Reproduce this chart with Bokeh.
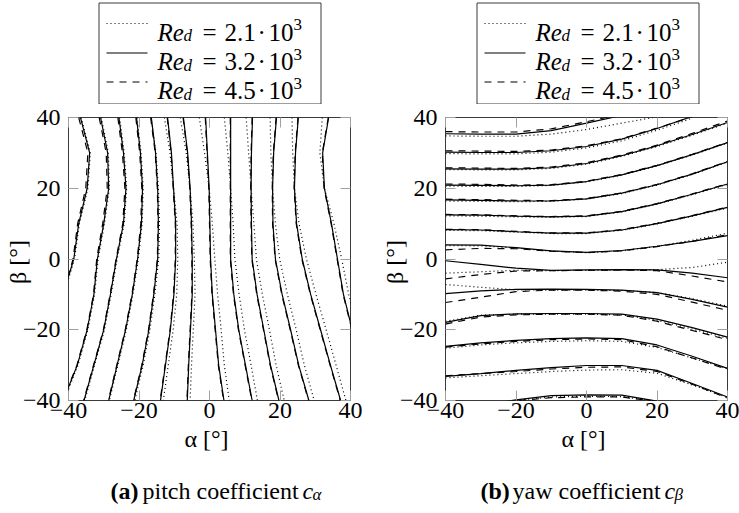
import math
from bokeh.plotting import figure
from bokeh.models import Range1d, LinearAxis, FixedTicker, Label
from bokeh.layouts import row, column
from bokeh.embed import file_html
from bokeh.resources import INLINE

nan = float("nan")
FONT = "Liberation Serif"

# ---------------- data ----------------
RE_VALUES = ["2.1", "3.2", "4.5"]
AXIS_TICKS = [-40, -20, 0, 20, 40]
TICK_LABELS = {-40: "\u221240", -20: "\u221220", 0: "0", 20: "20", 40: "40"}

# (a) pitch coefficient: alpha of each contour at these beta values
PITCH_BETA = [40, 30, 20, 10, 0, -10, -20, -30, -40]
PITCH_RE21 = [
    [-36.4, -33.8, -34.5, -36.9, -38.3, -41.3, nan, nan, nan],
    [-30.7, -28.7, -28.4, -29.8, -31.6, -32.6, -34.5, -37.3, -41.3],
    [-25.5, -24.2, -23.5, -24.2, -26.2, -27.9, -29.8, -32.6, -35.4],
    [-20.6, -19.4, -18.8, -19.1, -20.2, -21.7, -23.6, -26.0, -28.4],
    [-16.6, -15.2, -14.5, -14.2, -14.4, -15.5, -16.9, -18.8, -21.2],
    [-12.8, -11.2, -10.2, -9.2, -9.0, -9.3, -10.3, -11.7, -13.1],
    [-8.3, -6.6, -5.5, -4.7, -4.3, -4.1, -4.6, -5.1, -5.5],
    [-2.9, -1.4, -0.1, 0.8, 1.5, 2.3, 3.3, 4.2, 5.6],
    [4.2, 5.2, 6.0, 6.7, 7.2, 8.4, 9.9, 11.8, 13.6],
    [10.4, 11.1, 11.8, 12.6, 13.3, 15.0, 17.0, 18.9, 21.2],
    [17.2, 17.4, 17.9, 18.7, 19.9, 22.1, 24.6, 26.9, 29.7],
    [23.4, 23.6, 24.1, 25.4, 27.5, 30.2, 33.1, 35.9, 38.7],
    [32.0, 31.3, 32.6, 35.3, 37.5, 39.5, 42.1, nan, nan],
]
PITCH_RE32 = [
    [-36.6, -34.0, -34.7, -37.1, -38.5, -41.5, nan, nan, nan],
    [-30.9, -28.9, -28.6, -30.0, -31.8, -32.8, -34.7, -37.5, -41.5],
    [-25.7, -24.4, -23.7, -24.4, -26.4, -28.1, -30.0, -32.8, -35.6],
    [-20.7, -19.6, -19.0, -19.3, -20.4, -21.9, -23.8, -26.2, -28.6],
    [-16.5, -15.3, -14.7, -14.5, -14.7, -15.8, -17.2, -19.1, -21.5],
    [-11.9, -10.8, -10.2, -9.6, -9.6, -10.1, -11.1, -12.5, -13.9],
    [-7.4, -6.2, -5.5, -5.1, -4.9, -4.9, -5.4, -5.9, -6.3],
    [-1.1, -0.6, -0.1, 0.1, 0.3, 0.8, 1.7, 2.6, 4.1],
    [6.0, 6.0, 6.0, 6.0, 6.0, 6.9, 8.3, 10.2, 12.1],
    [12.2, 11.9, 11.8, 11.9, 12.1, 13.5, 15.4, 17.3, 19.7],
    [19.0, 18.2, 17.9, 18.0, 18.7, 20.6, 23.0, 25.3, 28.2],
    [25.2, 24.4, 24.1, 24.7, 26.3, 28.7, 31.5, 34.3, 37.2],
    [33.8, 32.1, 32.6, 34.6, 36.3, 38.0, 40.5, nan, nan],
]
PITCH_RE45 = [
    [-37.1, -34.5, -35.1, -37.4, -38.7, -41.6, nan, nan, nan],
    [-31.3, -29.3, -29.0, -30.3, -32.0, -32.9, -34.8, -37.6, -41.6],
    [-26.0, -24.7, -24.0, -24.6, -26.5, -28.2, -30.1, -32.9, -35.7],
    [-20.9, -19.8, -19.2, -19.5, -20.5, -22.0, -23.9, -26.3, -28.7],
    [-16.7, -15.4, -14.8, -14.6, -14.8, -15.9, -17.3, -19.2, -21.6],
    [-12.0, -10.9, -10.3, -9.7, -9.7, -10.2, -11.2, -12.6, -14.0],
    [-7.5, -6.3, -5.6, -5.2, -5.0, -5.0, -5.5, -6.0, -6.4],
    [-1.2, -0.7, -0.2, 0.0, 0.2, 0.7, 1.6, 2.5, 4.0],
    [5.9, 5.9, 5.9, 5.9, 5.9, 6.8, 8.2, 10.1, 12.0],
    [12.1, 11.8, 11.7, 11.8, 12.0, 13.4, 15.3, 17.2, 19.6],
    [18.9, 18.1, 17.8, 17.9, 18.6, 20.5, 22.9, 25.2, 28.1],
    [25.1, 24.3, 24.0, 24.6, 26.2, 28.6, 31.4, 34.2, 37.1],
    [33.7, 32.0, 32.5, 34.5, 36.2, 37.9, 40.4, nan, nan],
]

# (b) yaw coefficient: beta of each contour at these alpha values
YAW_ALPHA = [-40, -30, -20, -10, 0, 10, 20, 30, 40]
YAW_RE21 = [
    [34.8, 34.7, 34.7, 35.3, 36.6, 38.4, 40.2, nan, nan],
    [29.8, 29.7, 29.7, 30.2, 31.4, 33.4, 36.4, 39.8, nan],
    [25.3, 25.2, 25.2, 25.6, 26.8, 29.0, 31.8, 35.0, 38.4],
    [20.6, 20.5, 20.5, 20.8, 21.8, 23.7, 26.3, 29.4, 32.8],
    [16.4, 16.3, 16.2, 16.3, 16.9, 18.5, 20.9, 23.9, 27.4],
    [12.2, 12.1, 11.9, 11.8, 12.0, 13.3, 15.5, 18.2, 21.1],
    [8.1, 8.0, 7.6, 7.2, 7.2, 8.1, 9.9, 12.1, 14.4],
    [3.8, 3.7, 3.1, 2.2, 1.8, 2.3, 3.6, 5.3, 7.3],
    [-4.0, -3.6, -3.2, -3.3, -3.2, -3.1, -3.0, -2.4, -0.9],
    [-7.2, -8.0, -8.7, -8.8, -8.8, -8.9, -9.5, -11.2, -13.3],
    [-17.6, -15.9, -15.6, -15.6, -15.6, -15.8, -17.3, -19.8, -22.4],
    [-25.2, -24.3, -23.7, -23.3, -23.1, -23.3, -25.0, -28.0, -31.0],
    [-33.6, -33.0, -32.4, -31.8, -31.4, -31.3, -32.3, -35.6, -39.2],
    [nan, -41.7, -40.0, -39.0, -38.8, -38.9, -40.3, -42.0, nan],
]
YAW_RE32 = [
    [35.4, 35.3, 35.3, 36.3, 38.4, 40.6, nan, nan, nan],
    [30.2, 30.1, 30.1, 30.6, 31.8, 33.9, 36.9, 40.3, nan],
    [25.5, 25.4, 25.4, 25.8, 27.0, 29.2, 32.0, 35.2, 38.6],
    [20.9, 20.8, 20.7, 20.9, 21.9, 23.8, 26.4, 29.5, 32.9],
    [16.7, 16.6, 16.4, 16.4, 17.0, 18.6, 21.0, 24.0, 27.5],
    [12.5, 12.4, 12.1, 11.9, 12.1, 13.4, 15.6, 18.3, 21.2],
    [8.3, 8.2, 7.7, 7.3, 7.3, 8.2, 10.0, 12.2, 14.6],
    [4.0, 3.9, 3.2, 2.3, 1.9, 2.4, 3.6, 5.0, 6.6],
    [-0.5, -1.5, -2.6, -3.2, -3.1, -3.0, -3.1, -4.0, -5.3],
    [-9.8, -9.0, -8.6, -8.5, -8.6, -8.8, -9.5, -11.4, -13.6],
    [-17.9, -16.0, -15.5, -15.4, -15.4, -15.6, -17.0, -19.4, -22.1],
    [-24.7, -23.7, -23.0, -22.5, -22.3, -22.5, -24.3, -27.5, -30.9],
    [-33.2, -32.4, -31.5, -30.7, -30.1, -30.1, -31.5, -35.2, -39.0],
    [nan, -41.5, -39.8, -38.6, -38.4, -38.5, -40.2, -42.0, nan],
]
YAW_RE45 = [
    [36.0, 35.9, 35.9, 36.8, 38.8, 41.0, nan, nan, nan],
    [30.6, 30.5, 30.4, 30.8, 32.0, 34.0, 37.0, 40.2, nan],
    [25.8, 25.7, 25.6, 26.0, 27.2, 29.4, 32.2, 35.5, 39.0],
    [21.2, 21.1, 20.9, 21.0, 22.0, 23.9, 26.5, 29.6, 33.0],
    [16.9, 16.8, 16.6, 16.5, 17.1, 18.7, 21.1, 24.1, 27.6],
    [12.6, 12.5, 12.2, 12.0, 12.2, 13.5, 15.7, 18.4, 21.3],
    [8.4, 8.3, 7.8, 7.4, 7.4, 8.3, 10.1, 12.3, 14.7],
    [2.6, 3.0, 2.9, 2.2, 1.8, 2.3, 3.5, 5.0, 6.9],
    [-5.6, -4.4, -3.4, -3.3, -3.2, -3.1, -3.3, -4.8, -6.5],
    [-12.3, -10.8, -9.2, -8.8, -8.8, -9.1, -10.0, -12.2, -14.5],
    [-18.4, -16.4, -15.8, -15.6, -15.6, -15.9, -17.6, -20.2, -22.8],
    [-24.9, -24.0, -23.3, -22.8, -22.6, -22.8, -24.8, -28.0, -31.2],
    [-33.0, -32.4, -31.8, -31.1, -30.6, -30.5, -31.8, -35.4, -39.3],
    [nan, -41.8, -40.1, -39.2, -39.0, -39.0, -40.3, -42.0, nan],
]

# ---------------- styling ----------------
DASHES = ["1 3", "solid", "7 6"]
INK = "#000000"
FRAME = "#3a3a3a"
TICK_PX = "24px"

LEG_H = 104      # legend strip height (page y 0..104)
PLOT_H = 371     # plot strip (page y 104..475)
CAP_H = 38       # caption strip (page y 475..513)


def clean(xs, ys):
    pts = [(a, b) for a, b in zip(xs, ys) if not (math.isnan(a) or math.isnan(b))]
    return [a for a, _ in pts], [b for _, b in pts]


def no_align(f):
    if "frame_align" in f.properties():
        f.frame_align = False
    return f


def band_fig(x0, width, left, right, y0, height):
    # horizontal frame identical to the plot frame; coordinates are page pixels
    f = figure(width=width, height=height,
               x_range=Range1d(x0 + left, x0 + width - right),
               y_range=Range1d(y0 + height, y0),
               output_backend="svg", toolbar_location=None,
               x_axis_location=None, y_axis_location=None,
               min_border_left=left, min_border_right=right,
               min_border_top=0, min_border_bottom=0)
    f.outline_line_color = None
    f.grid.visible = False
    return no_align(f)


def lab(f, x, y, s, size, style="normal"):
    f.add_layout(Label(x=x, y=y, text=s, text_font=FONT, text_font_size=size,
                       text_font_style=style, text_baseline="alphabetic",
                       text_align="left", text_color=INK))


def make_legend(x0, width, left, right, dx):
    f = band_fig(x0, width, left, right, 0, LEG_H)
    f.quad(left=[98.5 + dx], right=[320.5 + dx], top=[2.5], bottom=[103.5],
           fill_color=None, line_color=FRAME, line_width=1)
    baselines = [31.5, 61, 90]
    for b, dash, re in zip(baselines, DASHES, RE_VALUES):
        f.line([106 + dx, 147 + dx], [b - 8.5, b - 8.5], line_color=INK,
               line_width=1.2, line_dash=dash)
        lab(f, 157 + dx, b, "Re", "25px", "italic")
        lab(f, 183 + dx, b + 3.5, "d", "17px", "italic")
        lab(f, 202 + dx, b, "=", "25px")
        lab(f, 224 + dx, b, re, "25px")
        lab(f, 257 + dx, b, "\u00b7", "25px")
        lab(f, 268 + dx, b, "10", "25px")
        lab(f, 293 + dx, b - 7.5, "3", "17px")
    return f


def make_plot(width, left, right, pitch):
    p = figure(width=width, height=PLOT_H,
               x_range=Range1d(-40, 40), y_range=Range1d(-40, 40),
               output_backend="svg", toolbar_location=None,
               x_axis_location=None, y_axis_location=None,
               min_border_left=left, min_border_right=right,
               min_border_top=117 - LEG_H, min_border_bottom=LEG_H + PLOT_H - 400)
    no_align(p)
    p.grid.visible = False
    p.outline_line_color = FRAME
    p.outline_line_width = 1
    for loc in ["below", "left", "above", "right"]:
        ax = LinearAxis(ticker=FixedTicker(ticks=AXIS_TICKS))
        ax.axis_line_color = None
        ax.major_tick_in = 10
        ax.major_tick_out = 0
        ax.major_tick_line_color = "#a0a0a0"
        ax.minor_tick_line_color = None
        ax.major_label_text_font = FONT
        ax.major_label_text_color = INK
        ax.axis_label_text_font = FONT
        ax.axis_label_text_font_size = TICK_PX
        ax.axis_label_text_font_style = "normal"
        ax.axis_label_text_color = INK
        if loc in ("above", "right"):
            ax.major_label_overrides = {t: "" for t in AXIS_TICKS}
            ax.major_label_text_font_size = "0px"
            ax.major_label_standoff = 0
        else:
            ax.major_label_overrides = TICK_LABELS
            ax.major_label_text_font_size = TICK_PX
            if loc == "below":
                ax.major_label_standoff = 2
                ax.axis_label = "\u03b1  [\u00b0]"
                ax.axis_label_standoff = 5
            else:
                ax.major_label_standoff = 8
                ax.axis_label = "\u03b2  [\u00b0]"
                ax.axis_label_standoff = -11
        p.add_layout(ax, loc)

    series = (PITCH_RE21, PITCH_RE32, PITCH_RE45) if pitch else (YAW_RE21, YAW_RE32, YAW_RE45)
    for curves, dash in zip(series, DASHES):
        for c in curves:
            if pitch:
                xs, ys = clean(c, PITCH_BETA)
            else:
                xs, ys = clean(YAW_ALPHA, c)
            p.line(xs, ys, line_color=INK, line_width=1.2, line_dash=dash)
    return p


def make_caption(x0, width, left, right, tag, words, sym, x_tag, x_words, x_c, x_sym):
    y0 = LEG_H + PLOT_H
    f = band_fig(x0, width, left, right, y0, CAP_H)
    b = 490
    lab(f, x_tag, b, tag, "24px", "bold")
    lab(f, x_words, b, words, "24px")
    lab(f, x_c, b, "c", "24px", "italic")
    lab(f, x_sym, b + 4, sym, "17px", "italic")
    return f


# page x: left column 0..370 (frame 68..350), right column 370..739 (frame 445..727)
left_col = column(
    make_legend(0, 370, 68, 20, 0),
    make_plot(370, 68, 20, True),
    make_caption(0, 370, 68, 20, "(a)", "pitch coefficient", "\u03b1", 110, 142, 302, 312),
)
right_col = column(
    make_legend(370, 369, 75, 12, 378),
    make_plot(369, 75, 12, False),
    make_caption(370, 369, 75, 12, "(b)", "yaw coefficient", "\u03b2", 480, 512, 664, 674),
)
layout = row(left_col, right_col)

open("out.html", "w").write(file_html(layout, INLINE))
